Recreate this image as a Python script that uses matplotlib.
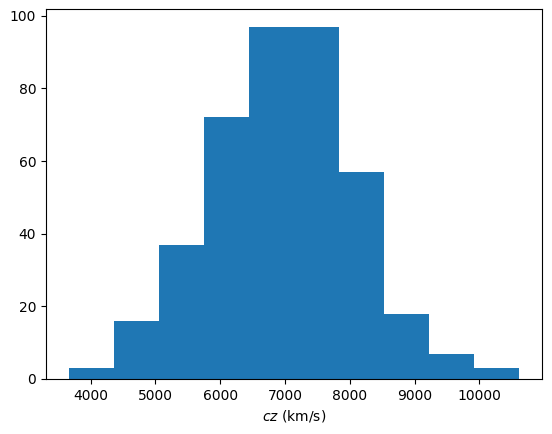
import matplotlib.pyplot as plt
import numpy as np

# histogram of cz
bin_edges = [3660, 4356, 5052, 5748, 6444, 7140, 7836, 8532, 9228, 9924, 10620]
counts = [3, 16, 37, 72, 97, 97, 57, 18, 7, 3]

fig = plt.figure(figsize=(5.52, 4.34), dpi=100)
ax = fig.add_axes([46 / 552, 55 / 434, 496 / 552, 370 / 434])
ax.hist(bin_edges[:-1], bins=bin_edges, weights=counts)
ax.set_xlabel('$cz$ (km/s)')
plt.savefig('out.png', dpi=100)
